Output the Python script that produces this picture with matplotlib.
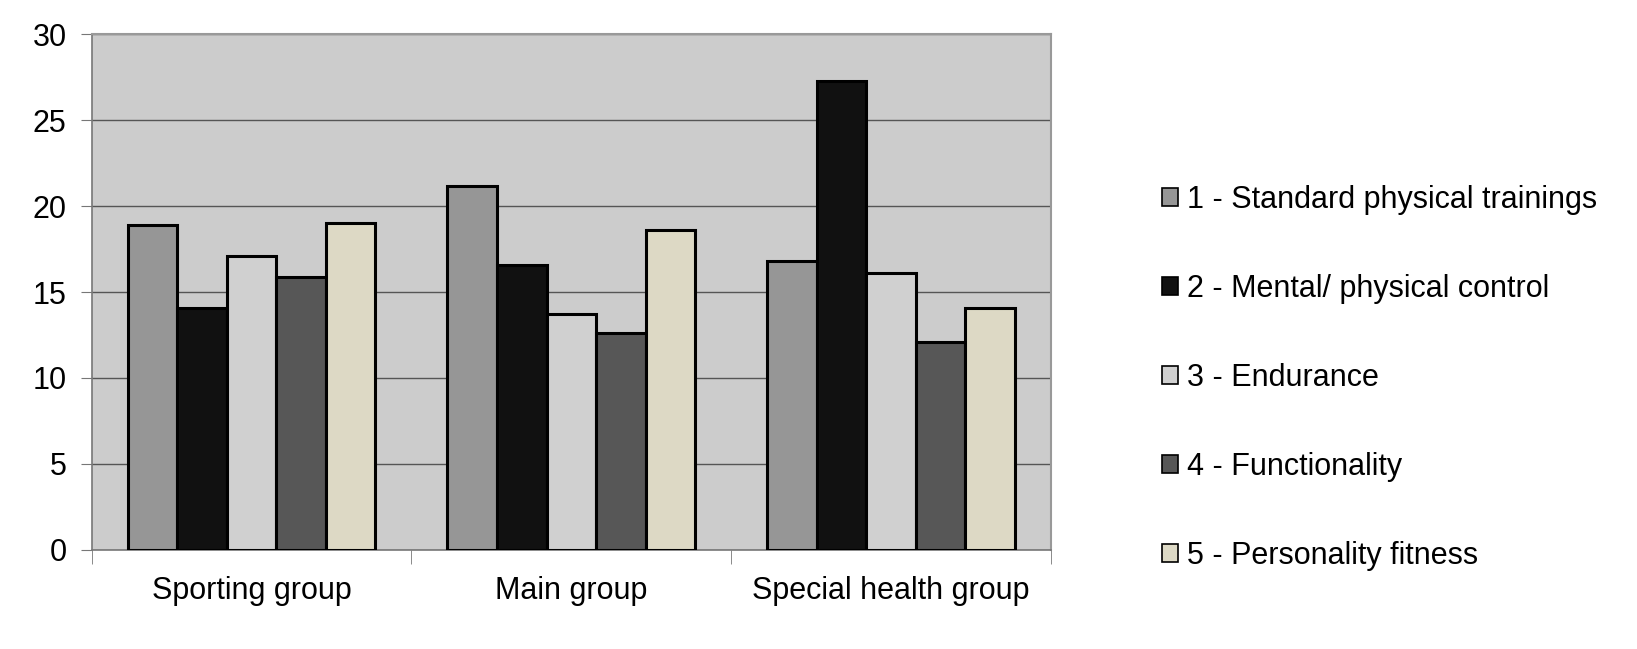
import numpy as np
import matplotlib.pyplot as plt

plt.rcParams['font.family'] = ['Liberation Sans', 'DejaVu Sans']

groups = ['Sporting group', 'Main group', 'Special health group']
series = ['1 - Standard physical trainings', '2 - Mental/ physical control',
          '3 - Endurance', '4 - Functionality', '5 - Personality fitness']
standard = [18.9, 21.2, 16.8]
mental = [14.1, 16.6, 27.3]
endurance = [17.1, 13.7, 16.1]
functionality = [15.9, 12.6, 12.1]
personality = [19.0, 18.6, 14.1]
values = [standard, mental, endurance, functionality, personality]
colors = ['#969696', '#111111', '#d0d0d0', '#575757', '#ddd9c5']

fig = plt.figure(figsize=(16.37, 6.49), dpi=100)
ax = fig.add_axes([0.056, 0.153, 0.586, 0.794])
ax.set_facecolor('#cccccc')

x = np.arange(len(groups))
w = 0.155
for i, (vals, c) in enumerate(zip(values, colors)):
    ax.bar(x + (i - 2) * w, vals, w, color=c, edgecolor='black', linewidth=2.2,
           label=series[i], zorder=3)

ax.set_xlim(-0.5, 2.5)
ax.set_ylim(0, 30)
ax.set_yticks(range(0, 31, 5))
ax.yaxis.grid(True, color='#555555', linewidth=1.0, zorder=1)
ax.set_xticks(x)
ax.set_xticklabels(groups, fontsize=22)
ax.set_xticks([-0.5, 0.5, 1.5, 2.5], minor=True)
ax.tick_params(axis='x', which='major', length=0, pad=19)
ax.tick_params(axis='x', which='minor', length=10, color='#777777', direction='out')
ax.tick_params(axis='y', labelsize=22, length=8, color='#777777', pad=10)
for s in ['left', 'bottom']:
    ax.spines[s].set_color('#777777')
    ax.spines[s].set_linewidth(1.2)
for s in ['top', 'right']:
    ax.spines[s].set_color('#999999')
    ax.spines[s].set_linewidth(1.5)

leg = ax.legend(loc='center left', bbox_to_anchor=(1.087, 0.333), frameon=False,
                fontsize=22, handlelength=0.52, handleheight=0.52,
                handletextpad=0.3, labelspacing=1.93)
for p in leg.get_patches():
    p.set_linewidth(1.2)

fig.savefig('out.png', dpi=100, facecolor='white')
